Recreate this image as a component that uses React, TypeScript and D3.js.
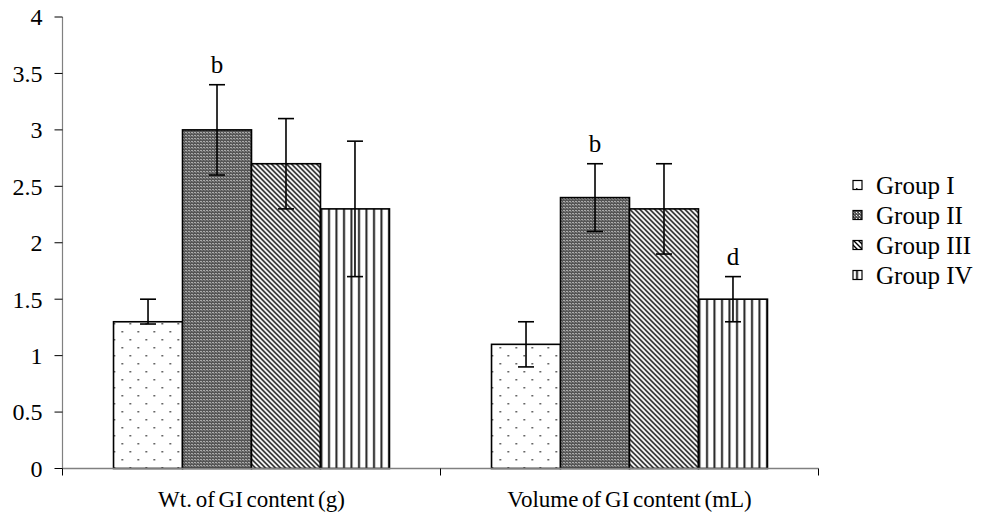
import React from "react";
import * as d3 from "d3";

const categories = ["Wt. of GI content (g)", "Volume of GI content (mL)"];
const groups = ["Group I", "Group II", "Group III", "Group IV"];
// values[category][group]
const means = [
  [1.3, 3.0, 2.7, 2.3],
  [1.1, 2.4, 2.3, 1.5],
];
const errLow = [
  [1.28, 2.6, 2.3, 1.7],
  [0.9, 2.1, 1.9, 1.3],
];
const errHigh = [
  [1.5, 3.4, 3.1, 2.9],
  [1.3, 2.7, 2.7, 1.7],
];
const sigLabels = [
  ["", "b", "", ""],
  ["", "b", "", "d"],
];
const yTicks = [0, 0.5, 1, 1.5, 2, 2.5, 3, 3.5, 4];

const W = 981;
const H = 525;
const left = 62.5;
const right = 818.5;
const top = 17;
const bottom = 468.5;
const FONT = "'Liberation Serif', 'Times New Roman', serif";

export default function App() {
  const x0 = d3.scaleBand<number>().domain([0, 1]).range([left, right]).paddingInner(0).paddingOuter(0);
  const bw = x0.bandwidth();
  const innerPad = (bw * 0.27) / 2;
  const x1 = d3
    .scaleBand<number>()
    .domain([0, 1, 2, 3])
    .range([innerPad, bw - innerPad])
    .padding(0);
  const y = d3.scaleLinear().domain([0, 4]).range([bottom, top]);
  const fills = ["url(#pDots)", "url(#pChecker)", "url(#pDiag)", "url(#pVert)"];

  return (
    <svg width={W} height={H} style={{ display: "block", position: "absolute", left: 0, top: 0 }}>
      <defs>
        <pattern id="pDots" width="16" height="16" patternUnits="userSpaceOnUse">
          <rect width="16" height="16" fill="#fff" />
          <rect x="3" y="3" width="1.5" height="1.5" fill="#333" />
          <rect x="11" y="11" width="1.5" height="1.5" fill="#333" />
        </pattern>
        <pattern id="pChecker" width="3" height="3" patternUnits="userSpaceOnUse">
          <rect width="3" height="3" fill="#555" />
          <rect x="0" y="0" width="1" height="1" fill="#fff" />
          <rect x="1" y="1" width="1" height="1" fill="#999" />
        </pattern>
        <pattern id="pDiag" width="5" height="5" patternUnits="userSpaceOnUse">
          <rect width="5" height="5" fill="#fff" />
          <path d="M-1,-1 L6,6 M-1,4 L1,6 M4,-1 L6,1" stroke="#000" strokeWidth="1.4" />
        </pattern>
        <pattern id="pVert" width="7.5" height="8" patternUnits="userSpaceOnUse">
          <rect width="7.5" height="8" fill="#fff" />
          <rect x="3" y="0" width="2" height="8" fill="#222" />
        </pattern>
      </defs>

      {/* bars */}
      {categories.map((c, ci) => (
        <g key={c} transform={`translate(${x0(ci)},0)`}>
          {groups.map((g, gi) => (
            <rect
              key={g}
              x={x1(gi)}
              y={y(means[ci][gi])}
              width={x1.bandwidth()}
              height={y(0) - y(means[ci][gi])}
              fill={fills[gi]}
              stroke="#000"
              strokeWidth={1.6}
            />
          ))}
          {groups.map((g, gi) => {
            const cx = (x1(gi) as number) + x1.bandwidth() / 2;
            return (
              <g key={g + "e"} stroke="#000" strokeWidth={1.6}>
                <line x1={cx} x2={cx} y1={y(errLow[ci][gi])} y2={y(errHigh[ci][gi])} />
                <line x1={cx - 8} x2={cx + 8} y1={y(errLow[ci][gi])} y2={y(errLow[ci][gi])} />
                <line x1={cx - 8} x2={cx + 8} y1={y(errHigh[ci][gi])} y2={y(errHigh[ci][gi])} />
              </g>
            );
          })}
          {groups.map((g, gi) => {
            const cx = (x1(gi) as number) + x1.bandwidth() / 2;
            return sigLabels[ci][gi] ? (
              <text
                key={g + "s"}
                x={cx}
                y={y(errHigh[ci][gi]) - 12}
                textAnchor="middle"
                fontFamily={FONT}
                fontSize={25}
                fill="#000"
              >
                {sigLabels[ci][gi]}
              </text>
            ) : null;
          })}
        </g>
      ))}

      {/* axes */}
      <line x1={left} x2={left} y1={top} y2={bottom} stroke="#808080" strokeWidth={1.2} />
      <line x1={left} x2={right} y1={bottom} y2={bottom} stroke="#808080" strokeWidth={1.5} />
      {yTicks.map((t) => (
        <g key={t}>
          <line x1={left - 8} x2={left} y1={y(t)} y2={y(t)} stroke="#000" strokeWidth={1} />
          <text
            x={left - 20}
            y={y(t)}
            dy="0.35em"
            textAnchor="end"
            fontFamily={FONT}
            fontSize={24}
            fill="#000"
          >
            {t}
          </text>
        </g>
      ))}
      {[0, 1, 2].map((i) => {
        const xx = i < 2 ? (x0(i) as number) : right;
        return <line key={i} x1={xx} x2={xx} y1={bottom} y2={bottom + 7} stroke="#000" strokeWidth={1} />;
      })}
      {categories.map((c, ci) => (
        <text
          key={c}
          x={(x0(ci) as number) + bw / 2}
          y={507}
          textAnchor="middle"
          fontFamily={FONT}
          fontSize={23}
          wordSpacing={-2}
          fill="#000"
        >
          {c}
        </text>
      ))}

      {/* legend */}
      {groups.map((g, gi) => (
        <g key={g} transform={`translate(853, ${185 + gi * 30})`}>
          <rect x={0} y={-4.5} width={9} height={9} fill={fills[gi]} stroke="#000" strokeWidth={1.2} />
          <text x={23} y={0} dy="0.35em" fontFamily={FONT} fontSize={25} fill="#000">
            {g}
          </text>
        </g>
      ))}
    </svg>
  );
}
